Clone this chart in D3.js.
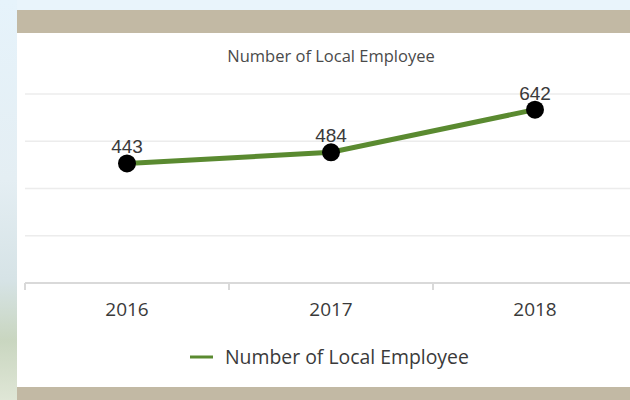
<!DOCTYPE html>
<html>
<head>
	<meta charset="UTF-8">
	<script src="https://d3js.org/d3.v7.min.js"></script>
	<style>
		body{ margin:0; background:#e9f4fb; }
		svg{ display:block; }
	</style>
</head>
<body>
	<script type="text/javascript">
		// data
		var years = ["2016", "2017", "2018"];
		var employees = [443, 484, 642];
		var gridTicks = [175, 350, 525, 700];
		var seriesName = "Number of Local Employee";

		var w = 630, h = 400;
		var svg = d3.select("body").append("svg").attr("width", w).attr("height", h);

		// backdrop: photo strip on the left, tan bands, white card
		var defs = svg.append("defs");
		var grad = defs.append("linearGradient").attr("id", "strip").attr("x1", 0).attr("y1", 0).attr("x2", 0).attr("y2", 1);
		grad.append("stop").attr("offset", "0%").attr("stop-color", "#e6f3fb");
		grad.append("stop").attr("offset", "45%").attr("stop-color", "#e4eef3");
		grad.append("stop").attr("offset", "70%").attr("stop-color", "#d6e3e6");
		grad.append("stop").attr("offset", "85%").attr("stop-color", "#c9d6c0");
		grad.append("stop").attr("offset", "100%").attr("stop-color", "#dfe6d6");
		svg.append("rect").attr("x", 0).attr("y", 0).attr("width", w).attr("height", h).attr("fill", "#e9f4fb");
		svg.append("rect").attr("x", 0).attr("y", 0).attr("width", 17).attr("height", h).attr("fill", "url(#strip)");
		svg.append("rect").attr("x", 17).attr("y", 10).attr("width", w - 17).attr("height", 23).attr("fill", "#c2b9a4");
		svg.append("rect").attr("x", 17).attr("y", 33).attr("width", w - 17).attr("height", 354).attr("fill", "#ffffff");
		svg.append("rect").attr("x", 17).attr("y", 387).attr("width", w - 17).attr("height", 13).attr("fill", "#c2b9a4");

		// scales
		var x = d3.scaleBand().domain(years).range([25, 637]);
		var y = d3.scaleLinear().domain([0, 700]).range([283, 94]);

		// gridlines
		svg.append("g").selectAll("line").data(gridTicks).enter().append("line")
			.attr("x1", 25).attr("x2", w).attr("y1", function(d){ return y(d); }).attr("y2", function(d){ return y(d); })
			.attr("stroke", "#ececec").attr("stroke-width", 1.5);

		// x axis
		var xAxis = d3.axisBottom(x).tickSize(0).tickPadding(20);
		var gx = svg.append("g").attr("transform", "translate(0," + y(0) + ")").call(xAxis);
		gx.select(".domain").attr("stroke", "#d9d9d9").attr("stroke-width", 2).attr("d", "M25,0H" + w);
		gx.selectAll("text").attr("font-family", "Open Sans, sans-serif").attr("font-size", 19).attr("fill", "#3a3a3a");
		// category boundary ticks
		gx.append("g").selectAll("line").data(years).enter().append("line")
			.attr("x1", function(d){ return x(d); }).attr("x2", function(d){ return x(d); })
			.attr("y1", 0).attr("y2", 7).attr("stroke", "#d9d9d9").attr("stroke-width", 2);

		// line
		var line = d3.line().x(function(d, i){ return x(years[i]) + x.bandwidth() / 2; }).y(function(d){ return y(d); });
		svg.append("path").attr("d", line(employees)).attr("fill", "none").attr("stroke", "#5a8a30").attr("stroke-width", 5);

		// markers
		svg.append("g").selectAll("circle").data(employees).enter().append("circle")
			.attr("cx", function(d, i){ return x(years[i]) + x.bandwidth() / 2; })
			.attr("cy", function(d){ return y(d); })
			.attr("r", 9).attr("fill", "#000000");

		// data labels
		svg.append("g").selectAll("text").data(employees).enter().append("text")
			.attr("x", function(d, i){ return x(years[i]) + x.bandwidth() / 2; })
			.attr("y", function(d){ return y(d) - 10; })
			.attr("text-anchor", "middle").attr("font-family", "Liberation Sans, Arial, sans-serif")
			.attr("font-size", 19).attr("fill", "#3a3a3a").text(function(d){ return d; });

		// title
		svg.append("text").attr("x", 331).attr("y", 62).attr("text-anchor", "middle")
			.attr("font-family", "Open Sans, sans-serif").attr("font-size", 16.5).attr("fill", "#4a4a4a").text(seriesName);

		// legend
		svg.append("line").attr("x1", 190).attr("x2", 213).attr("y1", 357).attr("y2", 357).attr("stroke", "#5a8a30").attr("stroke-width", 3);
		svg.append("text").attr("x", 225).attr("y", 364).attr("font-family", "Open Sans, sans-serif")
			.attr("font-size", 19.4).attr("fill", "#3a3a3a").text(seriesName);
	</script>
</body>
</html>
